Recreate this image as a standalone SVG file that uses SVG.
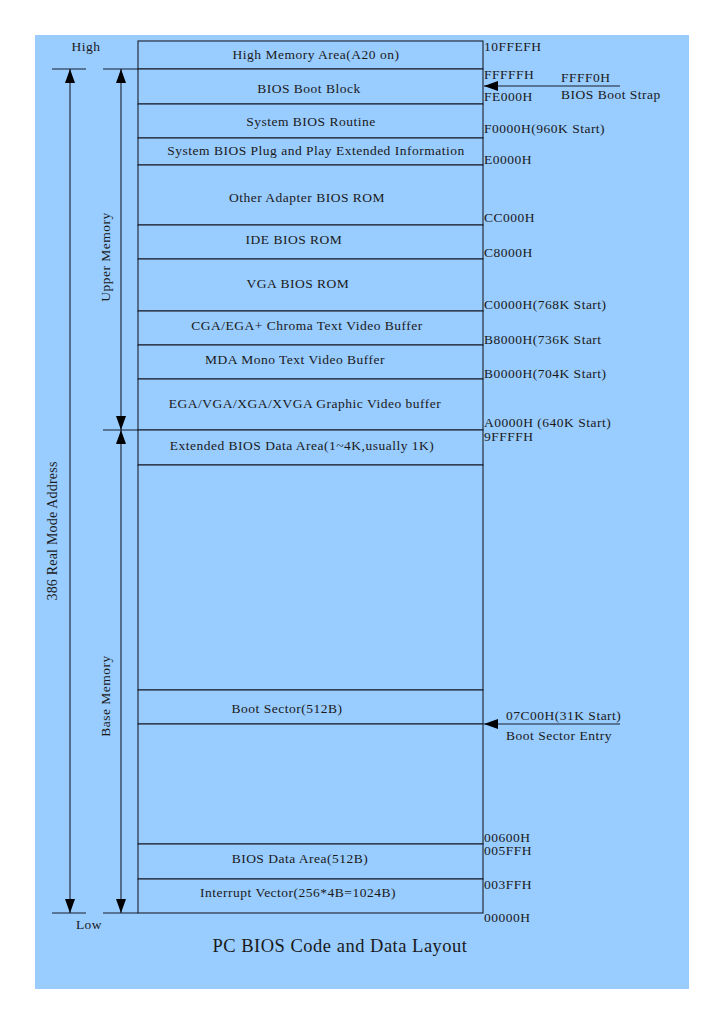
<svg xmlns="http://www.w3.org/2000/svg" width="724" height="1024" viewBox="0 0 724 1024">
<defs>
<marker id="ah" viewBox="0 0 14 10" refX="14" refY="5" markerWidth="14" markerHeight="10" markerUnits="userSpaceOnUse" orient="auto-start-reverse">
<path d="M0,0 L14,5 L0,10 z" fill="#000"/>
</marker>
<style>
text{font-family:'Liberation Serif','Times New Roman','DejaVu Serif',serif;font-size:13.5px;letter-spacing:0.5px;fill:#1a1a1a}
.c{text-anchor:middle}
.ln{stroke:#1a1f2c;stroke-width:1.1;fill:none}
.row{fill:#99ccff;stroke:#1a1f2c;stroke-width:1.1}
</style>
</defs>
<rect x="0" y="0" width="724" height="1024" fill="#ffffff"/>
<rect x="35" y="35" width="654" height="954" fill="#99ccff"/>

<g id="n-high"><rect class="row" x="138" y="41" width="345" height="28"/><text class="c" x="316" y="59">High Memory Area(A20 on)</text></g>
<g id="n-bootblock"><rect class="row" x="138" y="69" width="345" height="35"/><text class="c" x="309" y="93">BIOS Boot Block</text></g>
<g id="n-sysbios"><rect class="row" x="138" y="104" width="345" height="34"/><text class="c" x="311" y="126">System BIOS Routine</text></g>
<g id="n-pnp"><rect class="row" x="138" y="138" width="345" height="27"/><text class="c" x="316" y="155">System BIOS Plug and Play Extended Information</text></g>
<g id="n-other"><rect class="row" x="138" y="165" width="345" height="60"/><text class="c" x="307" y="202">Other Adapter BIOS ROM</text></g>
<g id="n-ide"><rect class="row" x="138" y="225" width="345" height="34"/><text class="c" x="294" y="244">IDE BIOS ROM</text></g>
<g id="n-vga"><rect class="row" x="138" y="259" width="345" height="52"/><text class="c" x="298" y="288">VGA BIOS ROM</text></g>
<g id="n-cga"><rect class="row" x="138" y="311" width="345" height="34"/><text class="c" x="307" y="330">CGA/EGA+ Chroma Text Video Buffer</text></g>
<g id="n-mda"><rect class="row" x="138" y="345" width="345" height="34"/><text class="c" x="295" y="364">MDA Mono Text Video Buffer</text></g>
<g id="n-ega"><rect class="row" x="138" y="379" width="345" height="51"/><text class="c" x="305" y="408">EGA/VGA/XGA/XVGA Graphic Video buffer</text></g>
<g id="n-ebda"><rect class="row" x="138" y="430" width="345" height="35"/><text class="c" x="302" y="450">Extended BIOS Data Area(1~4K,usually 1K)</text></g>
<g id="n-free1"><rect class="row" x="138" y="465" width="345" height="225"/></g>
<g id="n-bootsec"><rect class="row" x="138" y="690" width="345" height="34"/><text class="c" x="287" y="713">Boot Sector(512B)</text></g>
<g id="n-free2"><rect class="row" x="138" y="724" width="345" height="120"/></g>
<g id="n-bda"><rect class="row" x="138" y="844" width="345" height="35"/><text class="c" x="300" y="863">BIOS Data Area(512B)</text></g>
<g id="n-ivt"><rect class="row" x="138" y="879" width="345" height="34"/><text class="c" x="298" y="897">Interrupt Vector(256*4B=1024B)</text></g>

<g id="addr-labels">
<text x="484" y="51">10FFEFH</text>
<text x="484" y="79">FFFFFH</text>
<text x="484" y="101">FE000H</text>
<text x="484" y="133">F0000H(960K Start)</text>
<text x="484" y="164">E0000H</text>
<text x="484" y="222">CC000H</text>
<text x="484" y="257">C8000H</text>
<text x="484" y="309">C0000H(768K Start)</text>
<text x="484" y="344">B8000H(736K Start</text>
<text x="484" y="378">B0000H(704K Start)</text>
<text x="484" y="427">A0000H (640K Start)</text>
<text x="484" y="441">9FFFFH</text>
<text x="484" y="842">00600H</text>
<text x="484" y="855">005FFH</text>
<text x="484" y="889">003FFH</text>
<text x="484" y="922">00000H</text>
<text x="561" y="82">FFFF0H</text>
<text x="561" y="99">BIOS Boot Strap</text>
<text x="506" y="720">07C00H(31K Start)</text>
<text x="506" y="740">Boot Sector Entry</text>
<text class="c" x="86" y="51">High</text>
<text class="c" x="89" y="929">Low</text>
<text class="c" transform="translate(110,257) rotate(-90)">Upper Memory</text>
<text class="c" transform="translate(110,696) rotate(-90)">Base Memory</text>
<text class="c" transform="translate(57,531) rotate(-90)" style="font-size:14px;letter-spacing:0.2px">386 Real Mode Address</text>
<text class="c" x="340" y="952" style="font-size:18.5px;letter-spacing:0.5px">PC BIOS Code and Data Layout</text>
</g>

<g id="connectors">
<line class="ln" x1="52" y1="69" x2="86" y2="69"/>
<line class="ln" x1="52" y1="913" x2="86" y2="913"/>
<line class="ln" x1="103" y1="69" x2="138" y2="69"/>
<line class="ln" x1="103" y1="430" x2="138" y2="430"/>
<line class="ln" x1="103" y1="913" x2="138" y2="913"/>
<line class="ln" x1="70" y1="69" x2="70" y2="913" marker-start="url(#ah)" marker-end="url(#ah)"/>
<line class="ln" x1="121" y1="69" x2="121" y2="430" marker-start="url(#ah)" marker-end="url(#ah)"/>
<line class="ln" x1="121" y1="430" x2="121" y2="913" marker-start="url(#ah)" marker-end="url(#ah)"/>
<line class="ln" x1="620" y1="86" x2="484" y2="86" marker-end="url(#ah)"/>
<line class="ln" x1="620" y1="724" x2="484" y2="724" marker-end="url(#ah)"/>
</g>
</svg>
